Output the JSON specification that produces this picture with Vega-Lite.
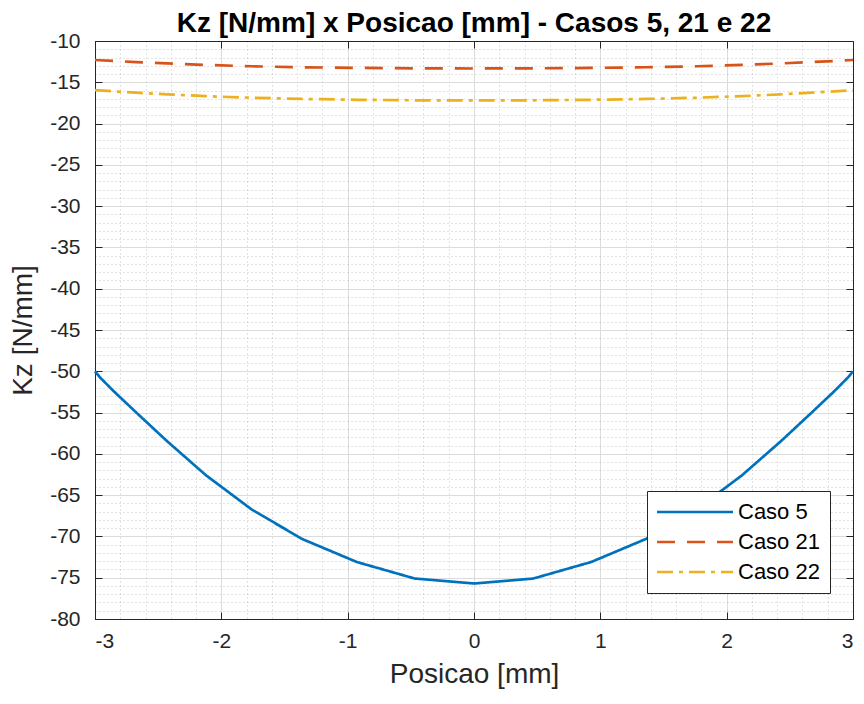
{
  "$schema": "https://vega.github.io/schema/vega-lite/v6.json",
  "width": 758,
  "height": 578,
  "autosize": {"type": "none"},
  "padding": {"left": 95, "top": 41, "right": 11, "bottom": 85},
  "background": "white",
  "title": {
    "text": "Kz [N/mm] x Posicao [mm] - Casos 5, 21 e 22",
    "font": "Liberation Sans",
    "fontSize": 28,
    "fontWeight": "bold",
    "color": "black",
    "anchor": "middle",
    "offset": -8
  },
  "config": {
    "view": {"stroke": null},
    "font": "Liberation Sans"
  },
  "data": {
    "values": [
      {"x": -3, "y": -50.0, "serie": "Caso 5"},
      {"x": -2.963, "y": -50.7, "serie": "Caso 5"},
      {"x": -2.853, "y": -52.4, "serie": "Caso 5"},
      {"x": -2.673, "y": -55.0, "serie": "Caso 5"},
      {"x": -2.427, "y": -58.5, "serie": "Caso 5"},
      {"x": -2.121, "y": -62.6, "serie": "Caso 5"},
      {"x": -1.763, "y": -66.7, "serie": "Caso 5"},
      {"x": -1.362, "y": -70.3, "serie": "Caso 5"},
      {"x": -0.927, "y": -73.1, "serie": "Caso 5"},
      {"x": -0.469, "y": -75.1, "serie": "Caso 5"},
      {"x": 0, "y": -75.7, "serie": "Caso 5"},
      {"x": 0.469, "y": -75.1, "serie": "Caso 5"},
      {"x": 0.927, "y": -73.1, "serie": "Caso 5"},
      {"x": 1.362, "y": -70.3, "serie": "Caso 5"},
      {"x": 1.763, "y": -66.7, "serie": "Caso 5"},
      {"x": 2.121, "y": -62.6, "serie": "Caso 5"},
      {"x": 2.427, "y": -58.5, "serie": "Caso 5"},
      {"x": 2.673, "y": -55.0, "serie": "Caso 5"},
      {"x": 2.853, "y": -52.4, "serie": "Caso 5"},
      {"x": 2.963, "y": -50.7, "serie": "Caso 5"},
      {"x": 3, "y": -50.0, "serie": "Caso 5"},
      {"x": -3, "y": -12.3, "serie": "Caso 21"},
      {"x": -2.963, "y": -12.33, "serie": "Caso 21"},
      {"x": -2.853, "y": -12.42, "serie": "Caso 21"},
      {"x": -2.673, "y": -12.55, "serie": "Caso 21"},
      {"x": -2.427, "y": -12.72, "serie": "Caso 21"},
      {"x": -2.121, "y": -12.9, "serie": "Caso 21"},
      {"x": -1.763, "y": -13.06, "serie": "Caso 21"},
      {"x": -1.362, "y": -13.18, "serie": "Caso 21"},
      {"x": -0.927, "y": -13.26, "serie": "Caso 21"},
      {"x": -0.469, "y": -13.31, "serie": "Caso 21"},
      {"x": 0, "y": -13.33, "serie": "Caso 21"},
      {"x": 0.469, "y": -13.31, "serie": "Caso 21"},
      {"x": 0.927, "y": -13.26, "serie": "Caso 21"},
      {"x": 1.362, "y": -13.18, "serie": "Caso 21"},
      {"x": 1.763, "y": -13.06, "serie": "Caso 21"},
      {"x": 2.121, "y": -12.9, "serie": "Caso 21"},
      {"x": 2.427, "y": -12.72, "serie": "Caso 21"},
      {"x": 2.673, "y": -12.55, "serie": "Caso 21"},
      {"x": 2.853, "y": -12.42, "serie": "Caso 21"},
      {"x": 2.963, "y": -12.33, "serie": "Caso 21"},
      {"x": 3, "y": -12.3, "serie": "Caso 21"},
      {"x": -3, "y": -15.95, "serie": "Caso 22"},
      {"x": -2.963, "y": -15.99, "serie": "Caso 22"},
      {"x": -2.853, "y": -16.1, "serie": "Caso 22"},
      {"x": -2.673, "y": -16.26, "serie": "Caso 22"},
      {"x": -2.427, "y": -16.46, "serie": "Caso 22"},
      {"x": -2.121, "y": -16.68, "serie": "Caso 22"},
      {"x": -1.763, "y": -16.87, "serie": "Caso 22"},
      {"x": -1.362, "y": -17.02, "serie": "Caso 22"},
      {"x": -0.927, "y": -17.12, "serie": "Caso 22"},
      {"x": -0.469, "y": -17.18, "serie": "Caso 22"},
      {"x": 0, "y": -17.2, "serie": "Caso 22"},
      {"x": 0.469, "y": -17.18, "serie": "Caso 22"},
      {"x": 0.927, "y": -17.12, "serie": "Caso 22"},
      {"x": 1.362, "y": -17.02, "serie": "Caso 22"},
      {"x": 1.763, "y": -16.87, "serie": "Caso 22"},
      {"x": 2.121, "y": -16.68, "serie": "Caso 22"},
      {"x": 2.427, "y": -16.46, "serie": "Caso 22"},
      {"x": 2.673, "y": -16.26, "serie": "Caso 22"},
      {"x": 2.853, "y": -16.1, "serie": "Caso 22"},
      {"x": 2.963, "y": -15.99, "serie": "Caso 22"},
      {"x": 3, "y": -15.95, "serie": "Caso 22"}
    ]
  },
  "resolve": {"axis": {"x": "independent", "y": "independent"}},
  "layer": [
    {
      "mark": {"type": "line", "opacity": 0},
      "encoding": {
        "detail": {"field": "serie"},
        "x": {
          "field": "x", "type": "quantitative",
          "scale": {"domain": [-3, 3], "nice": false, "zero": false},
          "axis": {
            "orient": "bottom", "title": null, "labels": false, "ticks": false, "domain": false,
            "grid": true, "gridColor": "#a0a0a0", "gridDash": [1, 3], "gridWidth": 1, "gridOpacity": 0.6,
            "values": [-2.8,-2.6,-2.4,-2.2,-1.8,-1.6,-1.4,-1.2,-0.8,-0.6,-0.4,-0.2,0.2,0.4,0.6,0.8,1.2,1.4,1.6,1.8,2.2,2.4,2.6,2.8]
          }
        },
        "y": {
          "field": "y", "type": "quantitative",
          "scale": {"domain": [-80, -10], "nice": false, "zero": false},
          "axis": {
            "orient": "left", "title": null, "labels": false, "ticks": false, "domain": false,
            "grid": true, "gridColor": "#a0a0a0", "gridDash": [1, 3], "gridWidth": 1, "gridOpacity": 0.6,
            "values": [-79,-78,-77,-76,-74,-73,-72,-71,-69,-68,-67,-66,-64,-63,-62,-61,-59,-58,-57,-56,-54,-53,-52,-51,-49,-48,-47,-46,-44,-43,-42,-41,-39,-38,-37,-36,-34,-33,-32,-31,-29,-28,-27,-26,-24,-23,-22,-21,-19,-18,-17,-16,-14,-13,-12,-11]
          }
        }
      }
    },
    {
      "mark": {"type": "line", "opacity": 0},
      "encoding": {
        "detail": {"field": "serie"},
        "x": {
          "field": "x", "type": "quantitative",
          "axis": {
            "orient": "top", "title": null, "labels": false, "grid": false,
            "domain": true, "domainColor": "#262626", "domainWidth": 1,
            "ticks": true, "tickSize": -7, "tickColor": "#262626",
            "values": [-3,-2,-1,0,1,2,3]
          }
        },
        "y": {
          "field": "y", "type": "quantitative",
          "axis": {
            "orient": "right", "title": null, "labels": false, "grid": false,
            "domain": true, "domainColor": "#262626", "domainWidth": 1,
            "ticks": true, "tickSize": -7, "tickColor": "#262626",
            "values": [-80,-75,-70,-65,-60,-55,-50,-45,-40,-35,-30,-25,-20,-15,-10]
          }
        }
      }
    },
    {
      "mark": {"type": "line", "strokeWidth": 2.7},
      "encoding": {
        "x": {
          "field": "x", "type": "quantitative",
          "axis": {
            "orient": "bottom", "title": "Posicao [mm]",
            "titleFontSize": 28, "titleFontWeight": "normal", "titleColor": "#262626", "titlePadding": 9,
            "labelFontSize": 21, "labelColor": "#262626", "labelPadding": 18,
            "labelExpr": "replace(datum.label, '\u2212', '-')",
            "grid": true, "gridColor": "#dcdcdc", "gridWidth": 1,
            "domain": true, "domainColor": "#262626", "domainWidth": 1,
            "ticks": true, "tickSize": -7, "tickColor": "#262626",
            "values": [-3,-2,-1,0,1,2,3]
          }
        },
        "y": {
          "field": "y", "type": "quantitative",
          "axis": {
            "orient": "left", "title": "Kz [N/mm]",
            "titleFontSize": 28, "titleFontWeight": "normal", "titleColor": "#262626", "titlePadding": 12,
            "labelFontSize": 21, "labelColor": "#262626", "labelPadding": 22,
            "labelExpr": "replace(datum.label, '\u2212', '-')",
            "grid": true, "gridColor": "#dcdcdc", "gridWidth": 1,
            "domain": true, "domainColor": "#262626", "domainWidth": 1,
            "ticks": true, "tickSize": -7, "tickColor": "#262626",
            "values": [-80,-75,-70,-65,-60,-55,-50,-45,-40,-35,-30,-25,-20,-15,-10]
          }
        },
        "color": {
          "field": "serie", "type": "nominal",
          "scale": {"domain": ["Caso 5", "Caso 21", "Caso 22"], "range": ["#0072BD", "#D95319", "#EDB120"]},
          "legend": {
            "title": null,
            "orient": "none", "legendX": 552, "legendY": 450,
            "fillColor": "white", "strokeColor": "#262626", "padding": 10,
            "symbolType": "M-4,0H4", "symbolSize": 361, "symbolStrokeWidth": 2.7,
            "symbolOffset": 27,
            "labelFontSize": 22, "labelColor": "black", "labelOffset": 32,
            "rowPadding": 8
          }
        },
        "strokeDash": {
          "field": "serie", "type": "nominal",
          "scale": {"domain": ["Caso 5", "Caso 21", "Caso 22"], "range": [[1, 0], [18, 12], [16, 6, 4, 6]]},
          "legend": {
            "title": null,
            "orient": "none", "legendX": 552, "legendY": 450,
            "fillColor": "white", "strokeColor": "#262626", "padding": 10,
            "symbolType": "M-4,0H4", "symbolSize": 361, "symbolStrokeWidth": 2.7,
            "symbolOffset": 27,
            "labelFontSize": 22, "labelColor": "black", "labelOffset": 32,
            "rowPadding": 8
          }
        }
      }
    }
  ]
}
